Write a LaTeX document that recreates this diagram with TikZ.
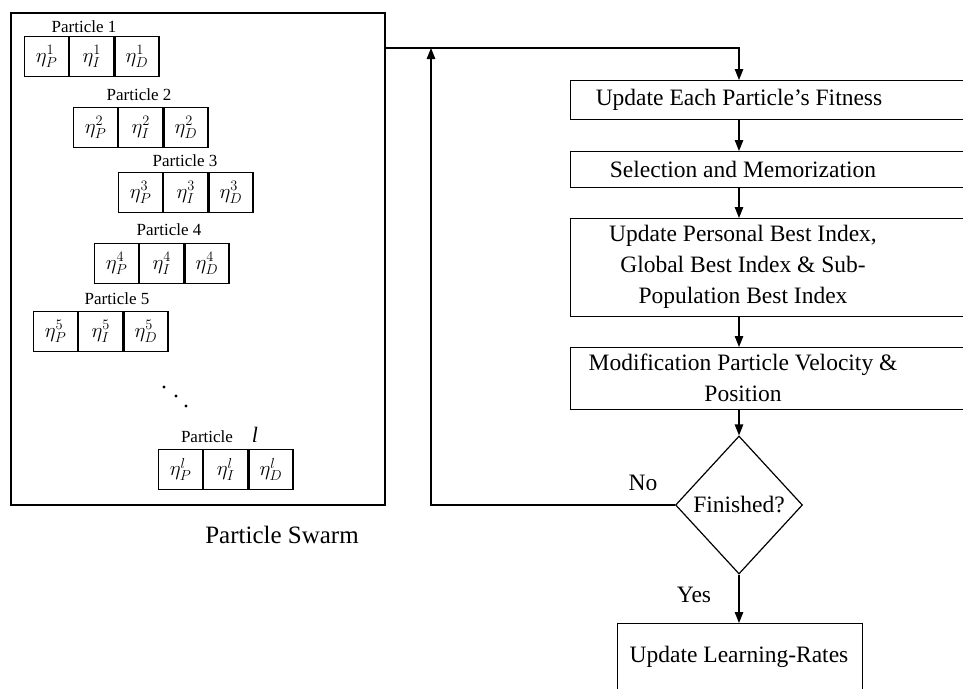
\documentclass[tikz,border=0pt]{standalone}
\usepackage{fontspec}
\setmainfont{Liberation Serif}
\usetikzlibrary{shapes.geometric,arrows.meta}
\newcommand\prow[4]{%
  \node[cell, anchor=north west] (#1a) at (#2,#3) {$\eta_P^{#4}$};
  \node[cell, anchor=north west] (#1b) at (#1a.north east) {$\eta_I^{#4}$};
  \node[cell, anchor=north west] (#1c) at (#1b.north east) {$\eta_D^{#4}$};
}
\begin{document}
\begin{tikzpicture}[x=1pt,y=-1pt,
  cell/.style={draw, line width=1.2pt, minimum width=44pt, minimum height=40pt, inner sep=0pt, font=\fontsize{22}{24}\selectfont},
  plabel/.style={font=\fontsize{17}{20}\selectfont, inner sep=0pt},
  swarmbox/.style={draw, line width=1.6pt, anchor=north west, inner sep=0pt},
  flowbox/.style={draw, line width=1.2pt, anchor=north west, inner sep=0pt},
  flowtxt/.style={font=\fontsize{23.5}{31}\selectfont, align=center, inner sep=0pt},
  decision/.style={draw, diamond, line width=1.2pt, minimum width=127pt, minimum height=138pt, inner sep=0pt, aspect=0.92, font=\fontsize{23.5}{28}\selectfont},
  lbl/.style={font=\fontsize{23.5}{28}\selectfont, inner sep=0pt},
  dot/.style={circle, fill, inner sep=0pt, minimum size=3.4pt},
  conn/.style={line width=1.2pt},
  arr/.style={conn, -{Triangle[length=11pt,width=8.5pt]}},
]
\useasboundingbox (0,0) rectangle (963,688);
\clip (0,0) rectangle (963,688);

% particle swarm
\node[swarmbox, minimum width=374pt, minimum height=492pt] (swarm) at (10,12) {};
\node[plabel] (l1) at (84,27) {Particle 1};
\prow{p1}{24}{36}{1}
\node[plabel] (l2) at (139,95) {Particle 2};
\prow{p2}{73}{107}{2}
\node[plabel] (l3) at (185,161) {Particle 3};
\prow{p3}{118}{172}{3}
\node[plabel] (l4) at (169,230) {Particle 4};
\prow{p4}{94}{243}{4}
\node[plabel] (l5) at (117,299) {Particle 5};
\prow{p5}{33}{311}{5}
\node[dot] (d1) at (164,387) {};
\node[dot] (d2) at (176,396) {};
\node[dot] (d3) at (186,406) {};
\node[plabel] (ll) at (207,437) {Particle};
\node[plabel, font=\fontsize{22}{24}\selectfont\itshape] (lli) at (255,435) {l};
\prow{pl}{158}{449}{l}
\node[lbl, font=\fontsize{25}{28}\selectfont] (swlab) at (282,535) {Particle Swarm};

% flow chart
\coordinate (cx) at (739,48);
\node[flowbox, minimum width=410pt, minimum height=39pt] (b1) at (570,80) {};
\node[flowtxt] (t1) at (739,100) {Update Each Particle’s Fitness};
\node[flowbox, minimum width=410pt, minimum height=36pt] (b2) at (570,151) {};
\node[flowtxt] (t2) at (743,169) {Selection and Memorization};
\node[flowbox, minimum width=410pt, minimum height=98pt] (b3) at (570,218) {};
\node[flowtxt] (t3) at (743,267) {Update Personal Best Index,\\Global Best Index \& Sub-\\Population Best Index};
\node[flowbox, minimum width=410pt, minimum height=62pt] (b4) at (570,347) {};
\node[flowtxt] (t4) at (743,378) {Modification Particle Velocity \&\\Position};
\node[decision] (dec) at (739,505) {Finished?};
\node[flowbox, minimum width=245pt, minimum height=80pt] (fin) at (617,623) {};
\node[flowtxt] (t5) at (739,657) {Update Learning-Rates};
\node[lbl] (no) at (643,483) {No};
\node[lbl] (yes) at (694,595) {Yes};
\coordinate (fb) at (431,505);

\draw[arr] (swarm.north east |- cx) -- (cx) -- (b1.north -| cx);
\draw[arr] (b1.south -| cx) -- (b2.north -| cx);
\draw[arr] (b2.south -| cx) -- (b3.north -| cx);
\draw[arr] (b3.south -| cx) -- (b4.north -| cx);
\draw[arr] (b4.south -| cx) -- (dec.north);
\draw[arr] (dec.south) -- (fin.north -| dec.south);
\draw[arr] (dec.west) -- (fb) -- (fb |- cx);
\end{tikzpicture}
\end{document}
